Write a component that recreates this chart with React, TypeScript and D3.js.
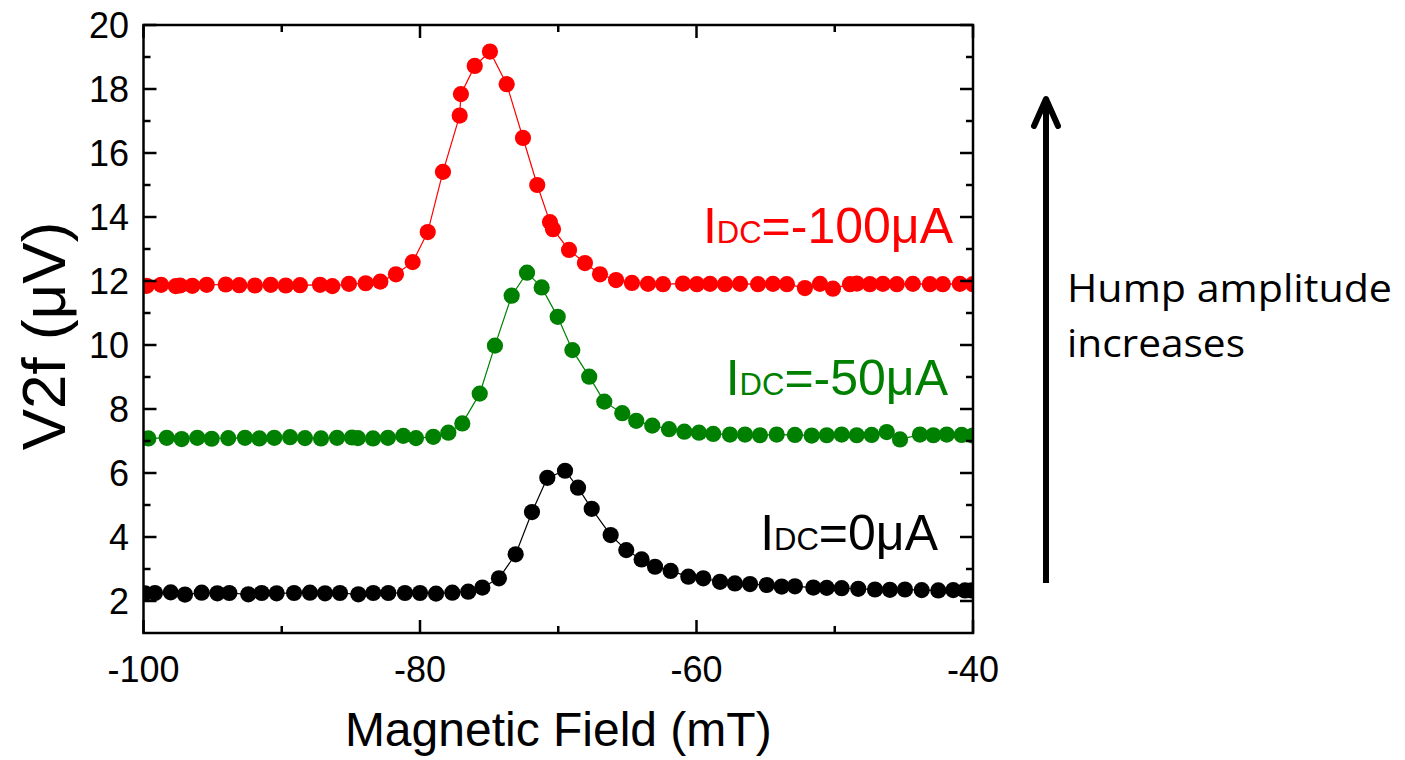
import React from "react";
import * as d3 from "d3";

// Second-harmonic voltage vs. magnetic field for three DC bias currents
const fieldI0 = [
  -99.89, -99.17, -98.03, -97.0, -95.79, -94.66, -93.79, -92.42, -91.45, -90.37,
  -89.11, -87.96, -86.87, -85.79, -84.46, -83.38, -82.29, -81.09, -80.0, -78.84,
  -77.66, -76.51, -75.49, -74.29, -73.08, -71.9, -70.79, -69.51, -68.57, -67.58,
  -66.21, -65.08, -63.97, -63.0, -61.87, -60.59, -59.51, -58.3, -57.22, -56.13,
  -54.92, -53.84, -52.88, -51.55, -50.58, -49.5, -48.3, -47.09, -46.01, -44.92,
  -43.71, -42.51, -41.43, -40.58, -40.1,
];
const v2fI0 = [
  2.24, 2.25, 2.27, 2.2, 2.26, 2.24, 2.25, 2.21, 2.25, 2.24,
  2.25, 2.26, 2.24, 2.25, 2.21, 2.25, 2.25, 2.25, 2.25, 2.23,
  2.26, 2.29, 2.42, 2.71, 3.46, 4.78, 5.85, 6.07, 5.54, 4.88,
  4.06, 3.59, 3.3, 3.07, 2.94, 2.76, 2.71, 2.6, 2.55, 2.53,
  2.5, 2.45, 2.46, 2.42, 2.41, 2.4, 2.38, 2.36, 2.35, 2.36,
  2.34, 2.33, 2.34, 2.33, 2.33,
];

const fieldI50 = [
  -99.65, -98.32, -97.24, -96.11, -95.07, -93.87, -92.66, -91.62, -90.54, -89.4,
  -88.32, -87.16, -86.0, -84.92, -84.49, -83.4, -82.32, -81.21, -80.29, -79.04,
  -77.95, -76.94, -75.68, -74.58, -73.37, -72.26, -71.2, -70.04, -68.98, -67.76,
  -66.67, -65.37, -64.36, -63.2, -61.99, -60.88, -59.82, -58.79, -57.58, -56.49,
  -55.41, -54.2, -52.88, -51.67, -50.58, -49.5, -48.41, -47.33, -46.24, -45.28,
  -43.84, -42.87, -41.9, -40.82, -40.02,
];
const v2fI50 = [
  7.08, 7.1, 7.06, 7.1, 7.07, 7.09, 7.1, 7.08, 7.1, 7.12,
  7.09, 7.08, 7.1, 7.11, 7.09, 7.08, 7.1, 7.16, 7.09, 7.13,
  7.26, 7.55, 8.48, 9.98, 11.54, 12.26, 11.8, 10.88, 9.84, 9.01,
  8.23, 7.87, 7.63, 7.48, 7.37, 7.29, 7.26, 7.22, 7.2, 7.2,
  7.18, 7.2, 7.19, 7.17, 7.18, 7.2, 7.18, 7.19, 7.28, 7.05,
  7.2, 7.18, 7.2, 7.19, 7.17,
];

const fieldI100 = [
  -99.77, -98.73, -97.67, -97.36, -96.47, -95.43, -94.05, -93.07, -91.94, -90.8,
  -89.71, -88.68, -87.23, -86.34, -85.14, -83.93, -82.87, -81.74, -80.53, -79.44,
  -78.34, -77.13, -77.04, -76.04, -74.94, -73.73, -72.55, -71.52, -70.6, -70.38,
  -69.22, -68.07, -66.98, -65.82, -64.67, -63.51, -62.42, -60.98, -59.97, -59.02,
  -57.94, -56.85, -55.55, -54.47, -53.46, -52.16, -51.07, -50.13, -48.9, -48.4,
  -47.46, -46.52, -45.51, -44.35, -43.12, -42.18, -40.95, -40.01,
];
const v2fI100 = [
  11.85, 11.88, 11.84, 11.86, 11.85, 11.88, 11.89, 11.87, 11.86, 11.88,
  11.86, 11.87, 11.88, 11.84, 11.91, 11.93, 11.98, 12.21, 12.59, 13.53,
  15.41, 17.17, 17.84, 18.72, 19.17, 18.15, 16.47, 15.0, 13.84, 13.62,
  12.97, 12.56, 12.21, 12.03, 11.94, 11.91, 11.9, 11.92, 11.9, 11.91,
  11.9, 11.91, 11.9, 11.91, 11.9, 11.78, 11.91, 11.76, 11.9, 11.92,
  11.9, 11.91, 11.9, 11.91, 11.9, 11.9, 11.91, 11.9,
];

const xMajorTicks = [-100, -80, -60, -40];
const xMinorTicks = [-90, -70, -50];
const yMajorTicks = [2, 4, 6, 8, 10, 12, 14, 16, 18, 20];
const yMinorTicks = [3, 5, 7, 9, 11, 13, 15, 17, 19];

const series = [
  { name: "I0", x: fieldI0, y: v2fI0, color: "#000000", value: "=0\u03bcA", lx: 938, ly: 550 },
  { name: "I50", x: fieldI50, y: v2fI50, color: "#008000", value: "=-50\u03bcA", lx: 948, ly: 395 },
  { name: "I100", x: fieldI100, y: v2fI100, color: "#ff0000", value: "=-100\u03bcA", lx: 953, ly: 243 },
];

const FONT = "'Liberation Sans', Arial, Helvetica, sans-serif";

export default function App() {
  const left = 143.5;
  const right = 973;
  const top = 25;
  const bottom = 633;

  const x = d3.scaleLinear().domain([-100, -40]).range([left, right]);
  const y = d3.scaleLinear().domain([1, 20]).range([bottom, top]);

  const majorLen = 13;
  const minorLen = 7;

  return (
    <svg
      width={1405}
      height={760}
      style={{ position: "absolute", left: 0, top: 0, background: "#fff" }}
      fontFamily={FONT}
    >
      <defs>
        <clipPath id="plot-area">
          <rect x={left} y={top} width={right - left} height={bottom - top} />
        </clipPath>
      </defs>

      {/* data */}
      <g clipPath="url(#plot-area)">
        {series.map((s) => {
          const pts: [number, number][] = s.x.map((v, i) => [v, s.y[i]]);
          const line = d3
            .line<[number, number]>()
            .x((d) => x(d[0]))
            .y((d) => y(d[1]));
          return (
            <g key={s.name}>
              <path d={line(pts) || ""} fill="none" stroke={s.color} strokeWidth={1.2} />
              {pts.map((d, i) => (
                <circle key={i} cx={x(d[0])} cy={y(d[1])} r={8.1} fill={s.color} />
              ))}
            </g>
          );
        })}
      </g>

      {/* frame and ticks */}
      <g stroke="#000" strokeWidth={2.5} fill="none">
        <rect x={left} y={top} width={right - left} height={bottom - top} />
        {xMajorTicks.map((t) => (
          <g key={"xM" + t}>
            <line x1={x(t)} x2={x(t)} y1={bottom} y2={bottom - majorLen} />
            <line x1={x(t)} x2={x(t)} y1={top} y2={top + majorLen} />
          </g>
        ))}
        {xMinorTicks.map((t) => (
          <g key={"xm" + t}>
            <line x1={x(t)} x2={x(t)} y1={bottom} y2={bottom - minorLen} />
            <line x1={x(t)} x2={x(t)} y1={top} y2={top + minorLen} />
          </g>
        ))}
        {yMajorTicks.map((t) => (
          <g key={"yM" + t}>
            <line x1={left} x2={left + majorLen} y1={y(t)} y2={y(t)} />
            <line x1={right} x2={right - majorLen} y1={y(t)} y2={y(t)} />
          </g>
        ))}
        {yMinorTicks.map((t) => (
          <g key={"ym" + t}>
            <line x1={left} x2={left + minorLen} y1={y(t)} y2={y(t)} />
            <line x1={right} x2={right - minorLen} y1={y(t)} y2={y(t)} />
          </g>
        ))}
      </g>

      {/* tick labels */}
      <g fontSize={36} fill="#000">
        {xMajorTicks.map((t) => (
          <text key={"xl" + t} x={x(t)} y={682} textAnchor="middle">
            {t}
          </text>
        ))}
        {yMajorTicks.map((t) => (
          <text key={"yl" + t} x={129} y={y(t) + 13} textAnchor="end">
            {t}
          </text>
        ))}
      </g>

      {/* axis titles */}
      <text x={(left + right) / 2} y={746} textAnchor="middle" fontSize={48} fill="#000">
        Magnetic Field (mT)
      </text>
      <text
        transform={`translate(65, ${(top + bottom) / 2 + 7}) rotate(-90)`}
        textAnchor="middle"
        fontSize={62}
        fill="#000"
      >
        V2f ({"\u03bc"}V)
      </text>

      {/* series labels */}
      {series.map((s) => (
        <text key={"lab" + s.name} x={s.lx} y={s.ly} textAnchor="end" fill={s.color} fontSize={50}>
          I<tspan fontSize={31}>DC</tspan>
          {s.value}
        </text>
      ))}

      {/* trend arrow */}
      <g stroke="#000" strokeWidth={6} fill="none" strokeLinejoin="round">
        <line x1={1046} x2={1046} y1={583} y2={100} strokeLinecap="butt" />
        <polyline points="1034,126 1046,99 1058,126" strokeLinecap="round" />
      </g>
      <g fontFamily="'Open Sans', 'Noto Sans', sans-serif" fontSize={39} fill="#000">
        <text x={1067} y={302} textLength={325} lengthAdjust="spacingAndGlyphs">
          Hump amplitude
        </text>
        <text x={1067} y={357} textLength={178} lengthAdjust="spacingAndGlyphs">
          increases
        </text>
      </g>
    </svg>
  );
}
